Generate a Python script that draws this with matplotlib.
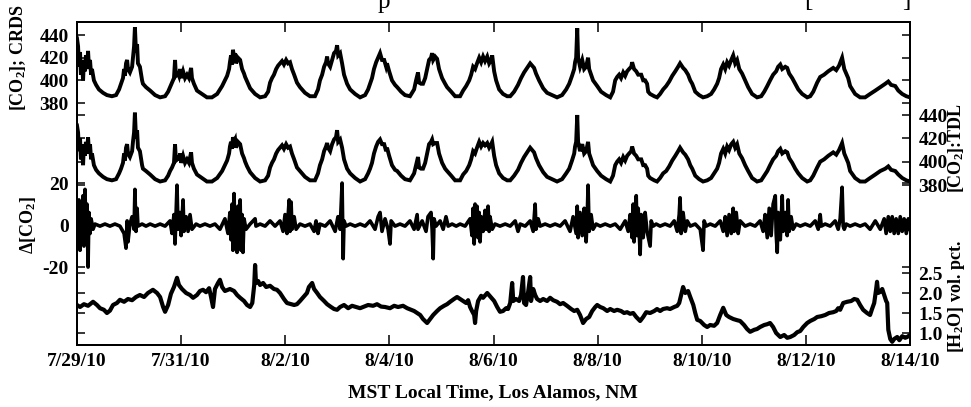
import matplotlib
matplotlib.use("Agg")
import matplotlib.pyplot as plt

plt.rcParams['font.family'] = ['Liberation Serif', 'DejaVu Serif']
plt.rcParams['font.weight'] = 'bold'
plt.rcParams['axes.unicode_minus'] = False
plt.rcParams['mathtext.fontset'] = 'custom'
plt.rcParams['mathtext.rm'] = 'Liberation Serif:bold'
plt.rcParams['mathtext.it'] = 'Liberation Serif:italic:bold'
plt.rcParams['mathtext.bf'] = 'Liberation Serif:bold'
plt.rcParams['mathtext.default'] = 'rm'

# ---- time axis: hours since 7/29/10 00:00 MST ----
date_ticks = [0, 48, 96, 144, 192, 240, 288, 336, 384]
date_labels = ['7/29/10', '7/31/10', '8/2/10', '8/4/10', '8/6/10',
               '8/8/10', '8/10/10', '8/12/10', '8/14/10']

# ---- CO2 mixing ratio (ppm), CRDS and TDL on a common time base ----
co2_hours = [
    0.0, 0.5, 0.9, 1.4, 1.8, 2.3, 2.8, 3.2, 3.7, 4.1,
    4.6, 5.1, 5.5, 6.0, 6.5, 6.9, 7.8, 8.8, 10.1, 12.0,
    13.8, 16.1, 18.0, 19.4, 20.3, 21.2, 21.7, 22.1, 22.6, 23.1,
    23.5, 24.4, 25.4, 25.8, 26.3, 26.7, 27.2, 27.7, 28.1, 29.0,
    30.0, 30.4, 31.8, 33.7, 36.0, 38.3, 40.6, 42.0, 42.9, 43.8,
    44.7, 45.2, 45.6, 46.6, 47.0, 47.5, 48.0, 48.9, 49.8, 50.7,
    51.6, 52.6, 53.0, 53.9, 55.3, 57.6, 59.9, 62.2, 64.6, 66.9,
    68.2, 69.2, 70.1, 70.5, 71.0, 71.5, 71.9, 72.4, 72.9, 73.3,
    74.2, 75.2, 76.1, 77.0, 77.5, 78.4, 79.8, 82.1, 84.4, 86.7,
    88.1, 89.0, 89.9, 90.8, 91.8, 92.7, 93.6, 94.5, 95.4, 96.4,
    97.3, 98.2, 99.1, 100.1, 101.4, 102.8, 105.1, 107.4, 109.7, 111.1,
    112.0, 113.0, 113.9, 114.8, 115.3, 115.7, 116.7, 117.6, 118.5, 119.4,
    119.9, 120.4, 121.3, 122.2, 123.1, 124.5, 125.9, 128.2, 130.5, 132.8,
    134.2, 135.1, 136.0, 136.9, 137.9, 138.8, 139.7, 140.6, 141.6, 142.5,
    142.9, 143.9, 145.2, 146.6, 147.6, 149.4, 151.2, 153.5, 155.4, 156.3,
    157.2, 157.7, 158.6, 159.5, 160.5, 161.4, 162.3, 163.2, 163.7, 164.2,
    165.1, 166.0, 166.9, 168.3, 169.7, 170.6, 172.5, 174.3, 176.6, 178.0,
    179.4, 180.8, 181.7, 182.6, 183.5, 184.4, 185.4, 186.3, 187.2, 188.1,
    189.1, 190.0, 190.9, 191.4, 192.3, 193.2, 194.6, 196.4, 198.3, 199.7,
    201.5, 203.3, 204.7, 206.1, 207.5, 208.9, 209.8, 210.7, 211.6, 213.0,
    214.9, 216.7, 219.0, 221.3, 223.6, 225.5, 226.9, 228.2, 229.2, 229.6,
    230.1, 230.6, 231.0, 231.9, 232.9, 233.8, 234.7, 235.6, 236.1, 237.0,
    237.9, 239.8, 241.6, 243.9, 245.8, 247.1, 248.1, 249.0, 249.9, 250.8,
    251.8, 252.7, 253.6, 254.5, 255.5, 255.9, 256.8, 257.8, 258.7, 260.1,
    261.0, 261.9, 262.8, 263.3, 264.2, 266.1, 267.4, 268.8, 270.2, 271.6,
    273.0, 274.4, 275.8, 277.1, 278.0, 279.4, 280.4, 281.7, 282.7, 283.6,
    285.0, 286.8, 288.6, 290.5, 292.3, 293.7, 295.1, 296.0, 296.9, 297.9,
    298.8, 299.7, 300.6, 301.6, 302.5, 303.4, 304.3, 305.3, 306.6, 308.0,
    309.4, 311.2, 313.5, 315.4, 316.8, 318.2, 319.5, 320.9, 322.3, 323.2,
    324.2, 325.1, 326.5, 327.4, 328.3, 329.7, 331.1, 332.5, 334.3, 336.6,
    338.0, 339.4, 341.2, 342.6, 344.4, 346.3, 348.6, 350.0, 351.3, 352.7,
    353.7, 355.5, 356.4, 358.7, 361.0, 363.3, 365.6, 368.0, 370.3, 372.6,
    374.0, 375.3, 377.2, 378.6, 380.4, 382.3, 384.0,
]
co2_crds = [
    437, 430, 412, 425, 405, 415, 400, 418, 408, 422,
    410, 426, 412, 418, 405, 410, 400, 396, 392, 389,
    387, 386, 387, 392, 397, 402, 410, 404, 415, 418,
    410, 407, 412, 420, 430, 447, 425, 432, 415, 412,
    400, 397, 394, 391, 387, 385, 386, 390, 394, 398,
    402, 418, 404, 406, 404, 410, 402, 408, 402, 405,
    402, 411, 402, 397, 391, 388, 385, 385, 388, 395,
    400, 404, 410, 416, 422, 414, 427, 420, 424, 415,
    420, 418, 410, 406, 403, 399, 393, 388, 385, 386,
    390, 398, 402, 405, 410, 413, 415, 417, 414, 418,
    415, 416, 410, 405, 398, 394, 389, 386, 386, 392,
    400, 405, 412, 416, 421, 415, 412, 418, 424, 426,
    431, 422, 424, 415, 405, 397, 392, 388, 385, 387,
    392, 397, 402, 410, 416, 420, 424, 418, 418, 412,
    415, 408, 400, 396, 394, 390, 387, 386, 392, 400,
    407, 398, 397, 397, 402, 410, 418, 420, 424, 418,
    421, 419, 410, 402, 397, 394, 390, 386, 386, 391,
    395, 400, 405, 412, 410, 415, 420, 416, 421, 417,
    421, 415, 418, 422, 408, 400, 392, 388, 386, 386,
    390, 396, 402, 407, 411, 415, 413, 411, 406, 400,
    393, 389, 387, 385, 387, 392, 397, 404, 410, 416,
    420, 446, 420, 412, 418, 410, 412, 420, 410, 405,
    400, 395, 390, 387, 385, 390, 400, 403, 405, 402,
    407, 404, 408, 410, 412, 416, 410, 408, 405, 405,
    400, 400, 397, 390, 388, 386, 385, 388, 392, 395,
    399, 404, 408, 412, 415, 411, 409, 405, 400, 397,
    390, 387, 385, 386, 388, 392, 397, 402, 410, 414,
    410, 416, 413, 418, 422, 415, 418, 410, 406, 400,
    394, 388, 385, 386, 390, 395, 400, 405, 408, 412,
    414, 410, 412, 411, 406, 402, 397, 392, 388, 385,
    386, 390, 398, 403, 405, 408, 411, 409, 413, 420,
    410, 402, 395, 388, 385, 385, 388, 391, 394, 397,
    399, 396, 395, 391, 388, 386, 385,
]
co2_tdl = [
    431, 425, 409, 420, 402, 412, 397, 415, 405, 417,
    407, 421, 409, 415, 402, 407, 397, 393, 390, 387,
    385, 384, 385, 390, 394, 399, 407, 401, 412, 415,
    407, 404, 409, 417, 425, 442, 420, 427, 412, 409,
    397, 394, 392, 389, 385, 383, 384, 388, 392, 395,
    399, 415, 401, 403, 401, 407, 399, 405, 399, 402,
    399, 408, 399, 394, 389, 386, 383, 383, 386, 392,
    397, 401, 407, 413, 417, 411, 421, 417, 419, 412,
    417, 415, 407, 403, 400, 396, 391, 386, 383, 384,
    388, 395, 399, 402, 407, 410, 412, 414, 411, 415,
    412, 413, 407, 402, 395, 392, 387, 384, 384, 390,
    397, 402, 409, 413, 416, 412, 409, 415, 419, 421,
    427, 417, 419, 412, 402, 394, 390, 386, 383, 385,
    390, 394, 399, 407, 413, 417, 419, 415, 415, 409,
    412, 405, 397, 393, 392, 388, 385, 384, 390, 397,
    404, 395, 394, 394, 399, 407, 415, 417, 419, 415,
    416, 416, 407, 399, 394, 392, 388, 384, 384, 389,
    392, 397, 402, 409, 407, 412, 417, 413, 416, 414,
    416, 412, 415, 417, 405, 397, 390, 386, 384, 384,
    388, 393, 399, 404, 408, 412, 410, 408, 403, 397,
    391, 387, 385, 383, 385, 390, 394, 401, 407, 413,
    417, 440, 417, 409, 415, 407, 409, 417, 407, 402,
    397, 392, 388, 385, 383, 388, 397, 400, 402, 399,
    404, 401, 405, 407, 409, 413, 407, 405, 402, 402,
    397, 397, 394, 388, 386, 384, 383, 386, 390, 392,
    396, 401, 405, 409, 412, 408, 406, 402, 397, 394,
    388, 385, 383, 384, 386, 390, 394, 399, 407, 411,
    407, 413, 410, 415, 417, 412, 415, 407, 403, 397,
    392, 386, 383, 384, 388, 392, 397, 402, 405, 409,
    411, 407, 409, 408, 403, 399, 394, 390, 386, 383,
    384, 388, 395, 400, 402, 405, 408, 406, 410, 416,
    407, 399, 392, 386, 383, 383, 386, 389, 392, 394,
    396, 393, 392, 389, 386, 384, 383,
]

# ---- CRDS - TDL difference (ppm) ----
delta_hours = [
    0.0, 0.5, 0.9, 1.4, 1.8, 2.3, 2.8, 3.2, 3.7, 4.1,
    4.6, 5.1, 5.5, 6.0, 6.5, 7.4, 8.3, 10.6, 12.9, 15.2,
    17.5, 19.8, 21.7, 22.6, 23.1, 23.5, 24.4, 25.4, 26.3, 26.7,
    27.2, 27.7, 28.1, 30.0, 31.8, 33.7, 36.0, 38.3, 40.6, 42.9,
    43.8, 44.7, 45.2, 45.6, 46.1, 46.6, 47.5, 48.0, 48.9, 49.3,
    50.3, 51.2, 52.1, 53.0, 54.9, 56.7, 59.0, 61.3, 63.6, 65.9,
    68.2, 69.6, 70.5, 71.0, 71.5, 71.9, 72.4, 72.9, 73.3, 73.8,
    74.2, 74.7, 75.2, 75.6, 76.1, 76.5, 77.0, 77.9, 79.8, 82.1,
    82.5, 84.4, 86.7, 89.0, 91.3, 93.6, 95.0, 95.9, 96.8, 97.8,
    98.2, 98.7, 99.1, 100.1, 101.0, 102.8, 105.1, 107.4, 109.3, 110.2,
    111.1, 112.0, 114.4, 116.7, 119.0, 120.3, 121.3, 122.2, 122.7, 123.1,
    124.0, 125.9, 128.2, 130.5, 132.8, 135.1, 137.4, 138.8, 139.7, 140.6,
    142.0, 143.4, 144.3, 144.8, 146.6, 148.9, 151.2, 153.5, 155.4, 156.8,
    157.2, 159.1, 160.9, 161.8, 163.2, 163.7, 164.2, 164.6, 165.5, 167.4,
    168.8, 170.1, 171.1, 172.9, 174.8, 176.6, 178.9, 181.2, 182.1, 182.6,
    183.1, 183.5, 184.0, 184.4, 184.9, 185.4, 185.8, 186.3, 187.2, 188.1,
    188.6, 189.5, 190.0, 190.4, 191.4, 192.7, 195.0, 197.4, 199.7, 202.0,
    203.3, 204.3, 206.6, 208.9, 210.3, 211.2, 211.6, 212.6, 213.5, 215.8,
    218.1, 220.4, 222.7, 225.0, 227.3, 228.7, 230.1, 230.6, 231.0, 231.9,
    232.9, 233.8, 234.7, 235.2, 235.6, 236.1, 237.0, 237.9, 239.3, 241.2,
    243.5, 245.8, 248.1, 250.4, 252.7, 254.1, 255.0, 255.9, 256.4, 256.8,
    257.8, 258.2, 258.7, 259.6, 260.1, 261.0, 261.9, 262.8, 264.2, 264.7,
    265.6, 267.0, 268.8, 271.1, 273.4, 275.3, 276.7, 277.6, 278.0, 278.5,
    279.4, 280.4, 281.3, 282.7, 285.0, 287.3, 288.6, 289.1, 290.0, 291.9,
    294.2, 296.5, 297.9, 298.8, 299.7, 300.6, 301.6, 302.5, 302.9, 303.9,
    304.8, 305.7, 308.0, 310.3, 312.6, 314.9, 316.3, 317.2, 318.2, 319.1,
    320.0, 320.9, 321.9, 322.3, 322.8, 323.2, 324.2, 325.1, 325.5, 326.5,
    327.4, 327.8, 328.3, 329.2, 330.1, 331.5, 333.4, 335.7, 338.0, 340.3,
    341.7, 342.6, 343.1, 344.9, 347.2, 349.5, 350.9, 351.8, 352.7, 353.2,
    353.7, 354.6, 356.4, 358.7, 361.0, 363.3, 365.6, 368.0, 370.3, 372.1,
    373.0, 374.0, 374.9, 375.8, 376.7, 377.6, 378.6, 379.5, 380.4, 381.3,
    382.3, 383.2, 384.0,
]
delta_co2 = [
    5, -8, 12, -12, 8, -6, 14, -10, 17, -5,
    10, -20, 6, -4, 3, -2, 0.5, -0.5, 0.5, -0.5,
    0.5, -0.5, -4, -11, 2, -8, 0.5, 4, -2, 17,
    -3, 8, -0.5, 0.5, -0.5, 0.5, -0.5, 0.5, -0.5, 2,
    -4, 5, -9, 3, 19, -2, 6, -5, 12, -3,
    4, -3, 5, -2, 0.5, -0.5, 0.5, -0.5, 0.5, -2,
    3, -4, 6, -7, 10, -12, 15, -8, 7, -13,
    9, -5, 12, -12, 5, -13, 3, -2, 0.5, 3,
    -0.5, 0.5, -0.5, 2, -0.5, 2, -3, 5, -4, 12,
    -3, 11, -2, 4, -2, 0.5, -0.5, 0.5, -3, 2,
    -4, 0.5, -0.5, 2, -3, 4, -2, 20, -16, 2,
    -0.5, 0.5, -0.5, 0.5, -0.5, 2, -2, 4, 6, -3,
    3, -2, -9, 2, -0.5, 0.5, -0.5, 2, -2, 5,
    -2, 2, -3, 4, 6, -2, -16, 3, -0.5, 2,
    -2, 4, -0.5, 0.5, -0.5, 0.5, -0.5, 3, -5, 8,
    -9, 10, -4, 9, -6, 6, -8, 4, -3, 7,
    -2, 9, -3, 4, -2, 0.5, -0.5, 0.5, -0.5, 2,
    -3, 0.5, -0.5, 2, -3, 10, -2, 3, -0.5, 0.5,
    -0.5, 0.5, -0.5, 2, -3, 4, -4, 9, -6, 6,
    -5, 8, -8, 4, 19, -3, 5, -2, 0.5, -0.5,
    0.5, -0.5, 0.5, -2, 2, -3, 5, -6, 10, -8,
    14, -5, 8, -14, 5, -6, 6, -3, -10, 2,
    -0.5, 0.5, -0.5, 0.5, -0.5, 2, -3, 5, 13, -4,
    6, -3, 2, -0.5, 0.5, -2, -12, 2, -0.5, 0.5,
    -0.5, 2, -3, 4, -5, 5, -4, 8, -3, 6,
    -4, 2, -0.5, 0.5, -0.5, 2, -3, 5, -6, 8,
    -5, 10, 14, -4, -13, 6, -7, 14, -3, 6,
    -5, 12, -3, 4, -2, 0.5, -0.5, 0.5, -0.5, 2,
    -2, 5, -0.5, 0.5, -0.5, 2, -2, 3, 18, -0.5,
    -2, 0.5, -0.5, 0.5, -0.5, 0.5, -2, 2, -2, 3,
    -4, 4, -3, 4, -4, 3, -4, 4, -3, 3,
    -4, 3, -2,
]

# ---- water vapour (volume percent) ----
h2o_hours = [
    0.0, 1.4, 3.2, 5.1, 7.4, 9.2, 10.6, 12.4, 13.8, 15.2,
    16.6, 18.4, 19.8, 21.7, 23.5, 25.4, 27.2, 29.0, 30.9, 32.7,
    35.0, 36.9, 38.3, 39.7, 40.6, 42.0, 43.3, 44.7, 46.1, 47.0,
    48.4, 50.3, 52.1, 53.5, 55.3, 56.7, 58.1, 59.5, 60.9, 61.8,
    62.7, 63.6, 65.0, 65.9, 66.9, 68.2, 70.5, 72.4, 73.8, 75.2,
    77.0, 78.4, 79.8, 80.8, 81.7, 82.1, 82.5, 83.5, 84.4, 85.8,
    87.2, 89.0, 90.8, 92.2, 93.6, 95.4, 96.8, 98.7, 100.1, 101.4,
    102.8, 104.7, 106.0, 106.9, 108.4, 109.3, 110.7, 112.0, 113.9, 115.3,
    117.1, 118.5, 119.9, 121.3, 123.1, 125.0, 126.8, 128.6, 130.5, 132.3,
    134.2, 136.5, 138.3, 140.2, 142.0, 144.3, 146.2, 148.0, 150.3, 152.2,
    154.0, 155.4, 156.8, 158.2, 159.5, 161.4, 162.8, 164.2, 166.0, 167.4,
    169.2, 170.6, 172.0, 173.8, 175.2, 176.6, 178.0, 179.4, 180.3, 181.2,
    182.1, 183.1, 183.5, 184.0, 184.9, 186.3, 187.2, 189.1, 190.4, 192.3,
    193.7, 195.0, 196.4, 197.8, 198.7, 199.7, 200.6, 201.1, 202.4, 203.8,
    204.7, 205.6, 206.1, 207.0, 207.9, 208.9, 209.3, 210.3, 211.2, 212.1,
    213.5, 214.9, 216.7, 218.1, 219.5, 221.3, 222.7, 224.1, 225.9, 227.8,
    229.2, 230.6, 231.9, 233.3, 234.7, 236.1, 237.5, 238.9, 239.8, 241.2,
    242.6, 244.4, 245.8, 247.6, 249.0, 250.8, 252.2, 253.6, 255.0, 256.4,
    257.8, 259.6, 261.0, 262.4, 264.2, 266.1, 267.4, 268.8, 270.2, 272.0,
    273.4, 275.3, 276.7, 277.6, 278.5, 279.4, 280.4, 281.7, 282.7, 284.1,
    285.0, 285.9, 287.3, 289.1, 290.5, 291.9, 293.7, 295.1, 296.5, 297.9,
    299.3, 300.6, 302.5, 304.3, 305.7, 307.5, 308.9, 310.3, 312.2, 313.5,
    314.9, 316.8, 318.2, 319.5, 320.9, 322.3, 324.2, 326.0, 327.4, 328.8,
    330.6, 332.0, 333.4, 334.8, 336.6, 338.0, 339.9, 341.2, 343.1, 344.9,
    346.7, 348.6, 350.0, 350.9, 351.8, 353.2, 355.0, 356.9, 358.3, 359.7,
    361.0, 362.4, 364.2, 365.6, 366.5, 367.5, 368.4, 368.8, 369.3, 370.3,
    371.2, 372.1, 373.0, 373.5, 374.0, 374.9, 375.8, 376.7, 378.1, 379.1,
    380.4, 381.8, 382.7, 384.0,
]
h2o_pct = [
    1.70, 1.65, 1.72, 1.68, 1.78, 1.70, 1.62, 1.58, 1.50, 1.56,
    1.70, 1.75, 1.83, 1.78, 1.85, 1.82, 1.90, 1.95, 1.90, 2.00,
    2.08, 2.00, 1.90, 1.65, 1.53, 1.70, 1.98, 2.15, 2.38, 2.20,
    2.10, 2.00, 1.95, 1.88, 1.95, 2.05, 2.08, 2.02, 2.12, 1.90,
    1.65, 2.10, 2.25, 2.33, 2.15, 2.05, 2.10, 2.05, 1.95, 1.88,
    1.80, 1.70, 1.65, 1.75, 2.20, 2.70, 2.25, 2.30, 2.20, 2.25,
    2.15, 2.18, 2.10, 2.08, 2.00, 1.85, 1.75, 1.72, 1.70, 1.72,
    1.80, 1.92, 2.00, 2.15, 2.25, 2.10, 2.00, 1.90, 1.80, 1.72,
    1.65, 1.60, 1.58, 1.65, 1.70, 1.62, 1.68, 1.65, 1.62, 1.66,
    1.70, 1.68, 1.72, 1.66, 1.65, 1.62, 1.68, 1.65, 1.68, 1.62,
    1.58, 1.55, 1.50, 1.45, 1.35, 1.25, 1.35, 1.45, 1.55, 1.62,
    1.68, 1.72, 1.78, 1.85, 1.90, 1.85, 1.80, 1.75, 1.82, 1.65,
    1.55, 1.45, 1.25, 1.55, 1.80, 1.93, 1.88, 2.00, 1.92, 1.80,
    1.65, 1.53, 1.55, 1.62, 1.60, 1.75, 2.25, 1.80, 1.85, 1.80,
    1.95, 2.40, 1.75, 1.70, 2.00, 2.40, 1.80, 2.10, 1.95, 1.85,
    1.80, 1.85, 1.80, 1.88, 1.82, 1.78, 1.72, 1.75, 1.68, 1.60,
    1.55, 1.58, 1.45, 1.25, 1.35, 1.40, 1.55, 1.65, 1.70, 1.65,
    1.62, 1.55, 1.60, 1.55, 1.58, 1.55, 1.50, 1.52, 1.48, 1.50,
    1.40, 1.30, 1.40, 1.52, 1.50, 1.55, 1.60, 1.55, 1.60, 1.62,
    1.60, 1.65, 1.68, 1.75, 1.95, 2.15, 2.00, 2.05, 1.90, 1.70,
    1.50, 1.33, 1.30, 1.20, 1.15, 1.20, 1.18, 1.25, 1.45, 1.63,
    1.45, 1.40, 1.35, 1.32, 1.30, 1.20, 1.10, 1.03, 1.08, 1.10,
    1.15, 1.20, 1.22, 1.25, 1.15, 1.00, 0.90, 0.95, 0.88, 0.90,
    0.95, 1.02, 1.05, 1.15, 1.25, 1.30, 1.35, 1.40, 1.42, 1.45,
    1.50, 1.52, 1.55, 1.62, 1.58, 1.75, 1.78, 1.80, 1.85, 1.83,
    1.70, 1.58, 1.50, 1.45, 1.60, 1.75, 2.10, 2.28, 2.00, 2.03,
    2.10, 1.95, 1.80, 1.75, 1.08, 0.85, 0.78, 0.85, 0.90, 0.82,
    0.92, 0.88, 0.90, 0.95,
]

# ---- figure: four stacked traces sharing one frame ----
fig = plt.figure(figsize=(9.71, 4.07), dpi=100)
ax_crds = fig.add_axes([77 / 971, 62 / 407, 833 / 971, 323 / 407])
ax_tdl = ax_crds.twinx()
ax_delta = ax_crds.twinx()
ax_h2o = ax_crds.twinx()

line_kw = dict(color='black', linewidth=2.8, solid_joinstyle='miter')
ax_crds.plot(co2_hours, co2_crds, **line_kw)
ax_tdl.plot(co2_hours, co2_tdl, **line_kw)
ax_delta.plot(delta_hours, delta_co2, color='black', linewidth=2.6)
ax_h2o.plot(h2o_hours, h2o_pct, color='black', linewidth=3.0)

# vertical ranges chosen so each trace sits in its own band
ax_crds.set_ylim(166.5, 451.5)
ax_tdl.set_ylim(242.9, 519.7)
ax_delta.set_ylim(-57.1, 96.7)
ax_h2o.set_ylim(0.7, 8.775)

ax_crds.set_yticks([380, 400, 420, 440])
ax_tdl.set_yticks([380, 400, 420, 440])
ax_delta.set_yticks([-20, 0, 20])
ax_h2o.set_yticks([1.0, 1.5, 2.0, 2.5])
ax_h2o.set_yticklabels(['1.0', '1.5', '2.0', '2.5'])

for ax in (ax_crds, ax_tdl, ax_delta, ax_h2o):
    ax.tick_params(axis='y', direction='in', length=6, width=1.1,
                   left=True, right=True, labelleft=False, labelright=False,
                   labelsize=14, pad=6)
    for sp in ax.spines.values():
        sp.set_linewidth(1.2)
ax_crds.tick_params(axis='y', labelleft=True)
ax_delta.tick_params(axis='y', labelleft=True)
ax_tdl.tick_params(axis='y', labelright=True)
ax_h2o.tick_params(axis='y', labelright=True)

ax_crds.set_xlim(0, 384)
ax_crds.set_xticks(date_ticks)
ax_crds.set_xticklabels(date_labels)
ax_crds.tick_params(axis='x', direction='in', length=7, width=1.1,
                    top=True, bottom=True, labelsize=14, pad=6)

# axis titles
fig.text(18 / 971, 1 - 58 / 407, '[CO$_2$]; CRDS', rotation=90,
         ha='center', va='center', fontsize=13)
fig.text(28 / 971, 1 - 225 / 407, 'Δ[CO$_2$]', rotation=90,
         ha='center', va='center', fontsize=13)
fig.text(956 / 971, 1 - 148 / 407, '[CO$_2$]:TDL', rotation=90,
         ha='center', va='center', fontsize=13)
fig.text(956 / 971, 1 - 296 / 407, '[H$_2$O] vol. pct.', rotation=90,
         ha='center', va='center', fontsize=13)
fig.text(493 / 971, 14 / 407, 'MST Local Time, Los Alamos, NM',
         ha='center', va='center', fontsize=14)

# caption line above the frame, mostly outside the canvas
fig.text(384 / 971, 1 - 8 / 407, 'p', ha='center', va='baseline', fontsize=18,
         fontweight='normal')
fig.text(808 / 971, 1 - 6 / 407, '[', ha='center', va='baseline', fontsize=18,
         fontweight='normal')
fig.text(906 / 971, 1 - 6 / 407, ']', ha='center', va='baseline', fontsize=18,
         fontweight='normal')

fig.savefig('out.png', dpi=100)
